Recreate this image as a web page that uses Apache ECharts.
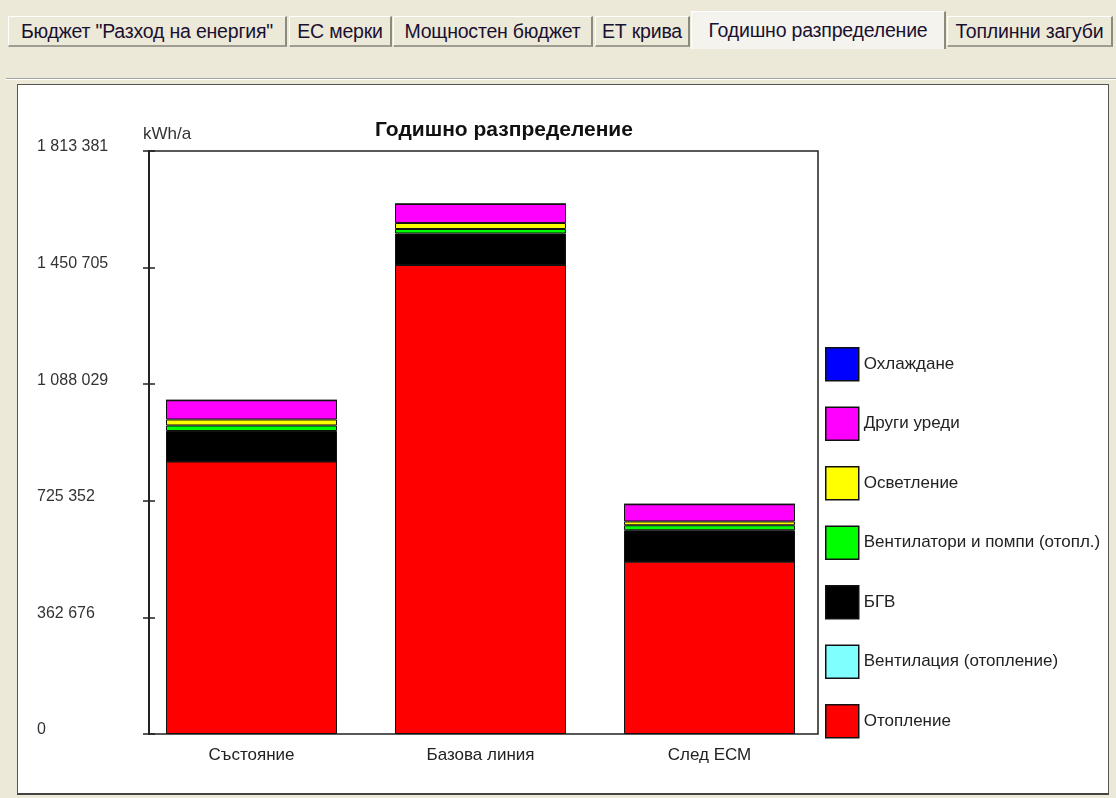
<!DOCTYPE html>
<html>
<head>
<meta charset="utf-8">
<script src="https://cdn.jsdelivr.net/npm/echarts@6/dist/echarts.min.js"></script>
<style>
  html, body { margin:0; padding:0; width:1116px; height:798px; background:#ECE9D8; overflow:hidden;
    font-family:"Liberation Sans", Arial, sans-serif; }
  .tab { position:absolute; top:16px; height:31px; box-sizing:border-box; background:#ECE9D8;
    border-top:1px solid #fff; border-left:1px solid #fff; border-right:2px solid #8a8a80; border-bottom:2px solid #9d9d92;
    font-size:19.5px; color:#1a1030; line-height:29px; text-align:center; white-space:nowrap; letter-spacing:-0.2px; }
  .tab.sel { top:11px; height:38px; background:#F4F3EE; border-bottom:none; line-height:36px; }
  #sep { position:absolute; left:6px; top:78px; width:1110px; height:1px; background:#A5A49C; }
  #sep2 { position:absolute; left:6px; top:79px; width:1110px; height:1px; background:#fff; }
  #panel { position:absolute; left:17px; top:84px; width:1090px; height:708px; background:#fff;
    border:1px solid #555; border-bottom:2px solid #444; }
  #chart { position:absolute; left:0; top:0; width:1116px; height:798px; }
</style>
</head>
<body>
<div class="tab" style="left:8px;width:279px;">Бюджет "Разход на енергия"</div>
<div class="tab" style="left:289px;width:103px;">ЕС мерки</div>
<div class="tab" style="left:393px;width:200px;">Мощностен бюджет</div>
<div class="tab" style="left:595px;width:95px;">ЕТ крива</div>
<div class="tab sel" style="left:691px;width:255px;">Годишно разпределение</div>
<div class="tab" style="left:947px;width:166px;">Топлинни загуби</div>
<div id="sep"></div><div id="sep2"></div>
<div id="panel"></div>
<div id="chart"></div>
<script>
// ---- data ----
const categories = ['Състояние', 'Базова линия', 'След ЕСМ'];
const heating      = [847600, 1458800, 536000];   // Отопление
const ventHeating  = [0, 0, 0];                   // Вентилация (отопление)
const dhw          = [94900, 98000, 97700];       // БГВ
const fansPumps    = [17100, 14000, 15600];       // Вентилатори и помпи (отопл.)
const lighting     = [18700, 18700, 11800];       // Осветление
const appliances   = [59700, 59100, 53500];       // Други уреди
const cooling      = [0, 0, 0];                   // Охлаждане
const yMax = 1813381;
const yTickLabels = ['0', '362 676', '725 352', '1 088 029', '1 450 705', '1 813 381'];
const seriesNames = ['Отопление', 'Вентилация (отопление)', 'БГВ', 'Вентилатори и помпи (отопл.)', 'Осветление', 'Други уреди', 'Охлаждане'];
const seriesColors = ['#FF0000', '#80FFFF', '#000000', '#00FF00', '#FFFF00', '#FF00FF', '#0000FF'];
const seriesData = [heating, ventHeating, dhw, fansPumps, lighting, appliances, cooling];

const interval = yMax / 5;
const chart = echarts.init(document.getElementById('chart'), null, { renderer: 'canvas' });
const font = '"Liberation Sans", Arial, sans-serif';

chart.setOption({
  backgroundColor: 'transparent',
  animation: false,
  title: [
    { text: 'Годишно разпределение', left: 370, top: 115,
      textStyle: { fontFamily: font, fontSize: 21, fontWeight: 'bold', color: '#111' } },
    { text: 'kWh/a', left: 138, top: 121,
      textStyle: { fontFamily: font, fontSize: 17, fontWeight: 'normal', color: '#333' } }
  ],
  legend: {
    orient: 'vertical', left: 825, top: 347, padding: 0,
    itemWidth: 33, itemHeight: 33, itemGap: 25,
    icon: 'rect',
    data: seriesNames.slice().reverse(),
    itemStyle: { borderColor: '#111', borderWidth: 1.5 },
    textStyle: { fontFamily: font, fontSize: 17, color: '#222' }
  },
  grid: [
    { left: 149, right: 298, top: 151, bottom: 64, show: true, borderColor: '#222', borderWidth: 1.5, backgroundColor: 'transparent' },
    { left: 137, right: 292, top: 151, bottom: 64 }
  ],
  xAxis: [
    { type: 'category', gridIndex: 0, data: categories, show: false },
    { type: 'category', gridIndex: 1, data: categories,
      axisLine: { show: false }, axisTick: { show: false },
      axisLabel: { margin: 13, fontFamily: font, fontSize: 17, color: '#222' } }
  ],
  yAxis: [
    { type: 'value', gridIndex: 0, min: 0, max: yMax, interval: interval,
      splitLine: { show: false },
      axisLine: { show: true, lineStyle: { color: '#222', width: 2 } },
      axisTick: { show: true, inside: false, length: 6, lineStyle: { color: '#222', width: 1.5 } },
      axisLabel: { show: true, align: 'left', verticalAlign: 'bottom', lineHeight: 8, margin: 112,
        fontFamily: font, fontSize: 16, color: '#333',
        formatter: v => yTickLabels[Math.round(v / interval)] } },
    { type: 'value', gridIndex: 1, min: 0, max: yMax, interval: interval, show: false, splitLine: { show: false } },
    { type: 'value', gridIndex: 0, min: 0, max: yMax, interval: interval, position: 'left',
      splitLine: { show: false }, axisLine: { show: false }, axisLabel: { show: false },
      axisTick: { show: true, inside: true, length: 6, lineStyle: { color: '#222', width: 1.5 } } }
  ],
  series: seriesNames.map((name, i) => ({
    name: name, type: 'bar', stack: 'total', xAxisIndex: 1, yAxisIndex: 1,
    barWidth: 171,
    data: seriesData[i],
    itemStyle: { color: seriesColors[i], borderColor: '#111', borderWidth: 1 }
  }))
});
</script>
</body>
</html>
